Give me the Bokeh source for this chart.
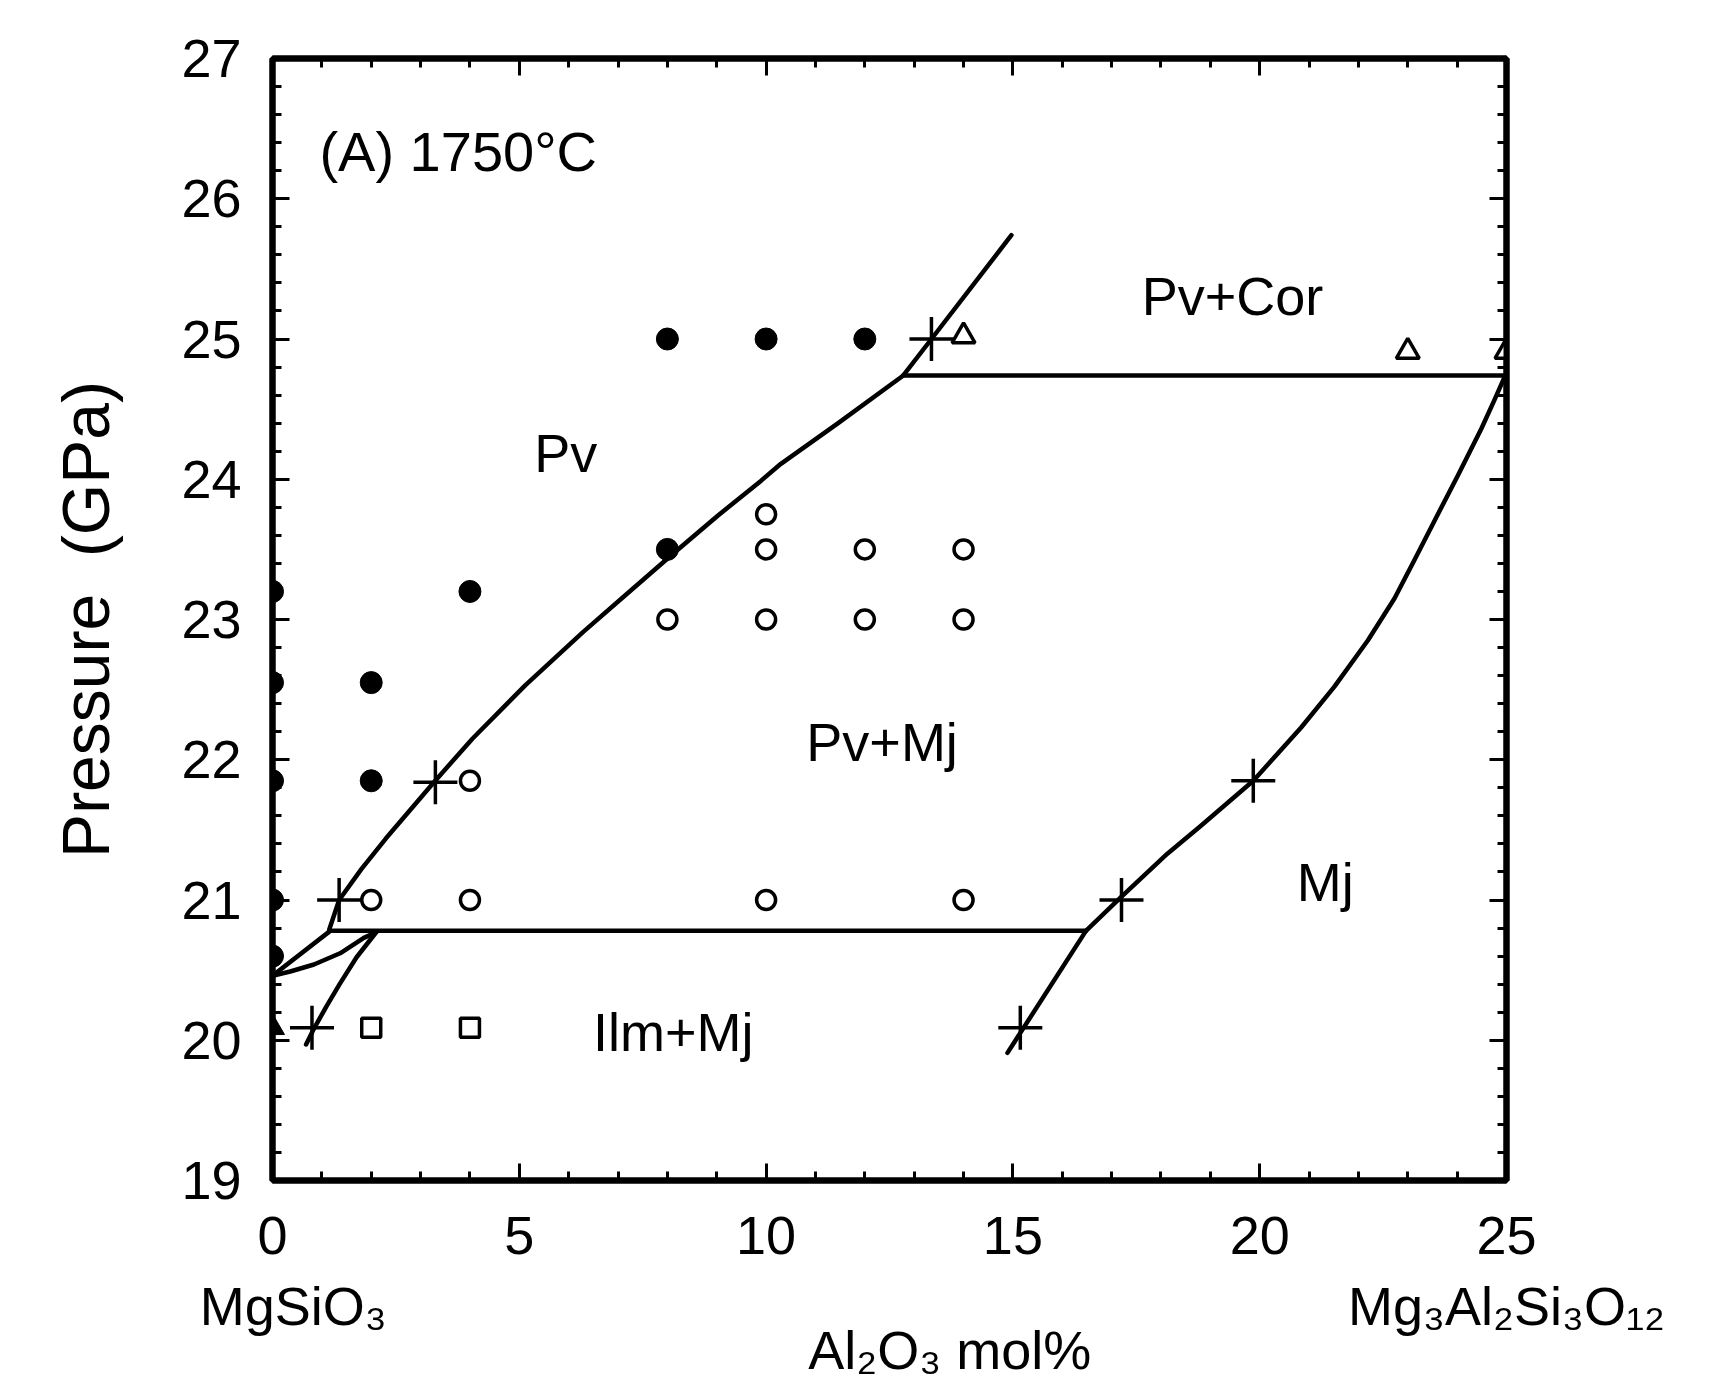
from bokeh.plotting import figure
from bokeh.models import Range1d, LinearAxis, SingleIntervalTicker, FixedTicker, Label
from bokeh.embed import file_html
from bokeh.resources import INLINE

FONT = "Liberation Sans"

# ---- data (Al2O3 mol%, pressure GPa) ----
filled_circle_x = [0, 0, 0, 0, 0, 2, 2, 4, 8, 10, 12, 8]
filled_circle_y = [23.2, 22.55, 21.85, 21.0, 20.6, 22.55, 21.85, 23.2, 25.0, 25.0, 25.0, 23.5]

open_circle_x = [4, 2, 4, 10, 14, 8, 10, 12, 14, 10, 12, 14, 10]
open_circle_y = [21.85, 21.0, 21.0, 21.0, 21.0, 23.0, 23.0, 23.0, 23.0, 23.5, 23.5, 23.5, 23.75]

open_square_x = [2, 4]
open_square_y = [20.09, 20.09]

filled_triangle_x = [0]
filled_triangle_y = [20.09]

open_triangle_x = [14, 23, 25]
open_triangle_y = [25.02, 24.91, 24.91]

cross_x = [13.35, 3.3, 1.35, 0.8, 15.15, 17.2, 19.87]
cross_y = [25.0, 21.84, 21.0, 20.09, 20.09, 21.0, 21.85]

# phase boundaries
pv_boundary_x = [1.15, 1.35, 1.8, 2.3, 3.27, 4.05, 5.12, 6.29, 7.27, 8.15, 9.02, 9.9, 10.3, 11.46, 12.78]
pv_boundary_y = [20.79, 21.0, 21.22, 21.44, 21.84, 22.15, 22.53, 22.91, 23.21, 23.48, 23.74, 23.99, 24.11, 24.4, 24.74]

cor_boundary_x = [12.78, 13.35, 14.97]
cor_boundary_y = [24.74, 25.0, 25.74]

cor_line_x = [12.78, 25.0]
cor_line_y = [24.74, 24.74]

mj_boundary_x = [25.0, 24.75, 24.49, 24.02, 23.55, 23.13, 22.73, 22.19, 21.51, 20.84, 19.87, 18.81, 18.13, 17.19, 16.48]
mj_boundary_y = [24.76, 24.56, 24.36, 24.03, 23.71, 23.42, 23.15, 22.85, 22.52, 22.23, 21.85, 21.53, 21.33, 21.02, 20.78]

mj_lower_x = [16.48, 14.89]
mj_lower_y = [20.78, 19.91]

ilm_line_x = [1.2, 16.48]
ilm_line_y = [20.78, 20.78]

lens_upper_x = [0.0, 1.17]
lens_upper_y = [20.46, 20.78]

lens_lower_x = [0.0, 0.36, 0.84, 1.37, 1.85, 2.1]
lens_lower_y = [20.46, 20.49, 20.54, 20.62, 20.73, 20.77]

ilm_boundary_x = [2.1, 1.7, 1.36, 1.09, 0.82, 0.68]
ilm_boundary_y = [20.77, 20.59, 20.40, 20.24, 20.07, 19.97]

region_labels = ["Pv+Cor", "Pv", "Pv+Mj", "Mj", "Ilm+Mj"]
region_x = [19.45, 5.94, 12.35, 21.33, 8.12]
region_y = [25.31, 24.19, 22.13, 21.13, 20.06]

end_member_ticks = [0.42, 25]
end_member_labels = ["MgSiO₃", "Mg₃Al₂Si₃O₁₂"]

x_title_tick = [13.72]
x_title_text = ["Al₂O₃ mol%"]

# ---- figure ----
p = figure(frame_width=1234, frame_height=1122,
           x_range=Range1d(0, 25), y_range=Range1d(19, 27),
           output_backend="svg", toolbar_location=None,
           min_border_left=272, min_border_right=218,
           min_border_top=58, min_border_bottom=200,
           x_axis_location=None, y_axis_location=None)
p.xgrid.visible = False
p.ygrid.visible = False
p.outline_line_color = "black"
p.outline_line_width = 6
p.background_fill_color = "white"
p.border_fill_color = "white"


def make_axis(kind, labels):
    if kind == "x":
        t = SingleIntervalTicker(interval=5, num_minor_ticks=5)
    else:
        t = SingleIntervalTicker(interval=1, num_minor_ticks=5)
    ax = LinearAxis(ticker=t)
    ax.axis_line_width = 6
    ax.axis_line_color = "black"
    ax.major_tick_in = 17
    ax.major_tick_out = 0
    ax.minor_tick_in = 9
    ax.minor_tick_out = 0
    ax.major_tick_line_width = 3
    ax.minor_tick_line_width = 3
    ax.major_tick_line_color = "black"
    ax.minor_tick_line_color = "black"
    if labels:
        ax.major_label_text_font = FONT
        ax.major_label_text_font_size = "54px"
        ax.major_label_text_color = "black"
    else:
        ax.major_label_text_font_size = "0px"
        ax.major_label_text_color = None
    return ax


def text_axis(ticks, texts, standoff):
    ax = LinearAxis(ticker=FixedTicker(ticks=ticks),
                    major_label_overrides=dict(zip(ticks, texts)))
    ax.axis_line_color = None
    ax.major_tick_line_color = None
    ax.minor_tick_line_color = None
    ax.major_tick_out = 0
    ax.major_tick_in = 0
    ax.major_label_standoff = standoff
    ax.major_label_text_font = FONT
    ax.major_label_text_font_size = "54px"
    ax.major_label_text_color = "black"
    return ax


xb = make_axis("x", True)
xb.major_label_standoff = 36
p.add_layout(xb, "below")

# end-member compositions written under the axis ends
p.add_layout(text_axis(end_member_ticks, end_member_labels, 19), "below")
# composition axis title
p.add_layout(text_axis(x_title_tick, x_title_text, -19), "below")

yl = make_axis("y", True)
yl.major_label_standoff = 31
yl.axis_label = "Pressure\u00a0\u00a0(GPa)"
yl.axis_label_text_font = FONT
yl.axis_label_text_font_size = "66px"
yl.axis_label_text_font_style = "normal"
yl.axis_label_text_color = "black"
yl.axis_label_standoff = 55
p.add_layout(yl, "left")

p.add_layout(make_axis("x", False), "above")
p.add_layout(make_axis("y", False), "right")

# ---- boundaries ----
LW = 4.5
for xs, ys in [(pv_boundary_x, pv_boundary_y), (cor_boundary_x, cor_boundary_y),
               (cor_line_x, cor_line_y), (mj_boundary_x, mj_boundary_y),
               (mj_lower_x, mj_lower_y), (ilm_line_x, ilm_line_y),
               (lens_upper_x, lens_upper_y), (lens_lower_x, lens_lower_y),
               (ilm_boundary_x, ilm_boundary_y)]:
    p.line(xs, ys, line_color="black", line_width=LW, line_join="round", line_cap="round")

# ---- markers ----
p.scatter(cross_x, cross_y, marker="cross", size=44, line_color="black", line_width=3.5)
p.scatter(filled_circle_x, filled_circle_y, marker="circle", size=22,
          fill_color="black", line_color="black")
p.scatter(open_circle_x, open_circle_y, marker="circle", size=19,
          fill_color="white", line_color="black", line_width=3.5)
p.scatter(open_square_x, open_square_y, marker="square", size=19,
          fill_color="white", line_color="black", line_width=3.5)
p.scatter(open_triangle_x, open_triangle_y, marker="triangle", size=23,
          fill_color="white", line_color="black", line_width=3.5)
p.scatter(filled_triangle_x, filled_triangle_y, marker="triangle", size=24,
          fill_color="black", line_color="black")

# ---- texts ----
for t, x, y in zip(region_labels, region_x, region_y):
    p.add_layout(Label(x=x, y=y, text=t, text_font=FONT, text_font_size="54px",
                       text_align="center", text_baseline="alphabetic", text_color="black"))

p.add_layout(Label(x=0.95, y=26.34, text="(A) 1750°C", text_font=FONT, text_font_size="56px",
                   text_align="left", text_baseline="alphabetic", text_color="black"))

open("out.html", "w").write(file_html(p, INLINE))
